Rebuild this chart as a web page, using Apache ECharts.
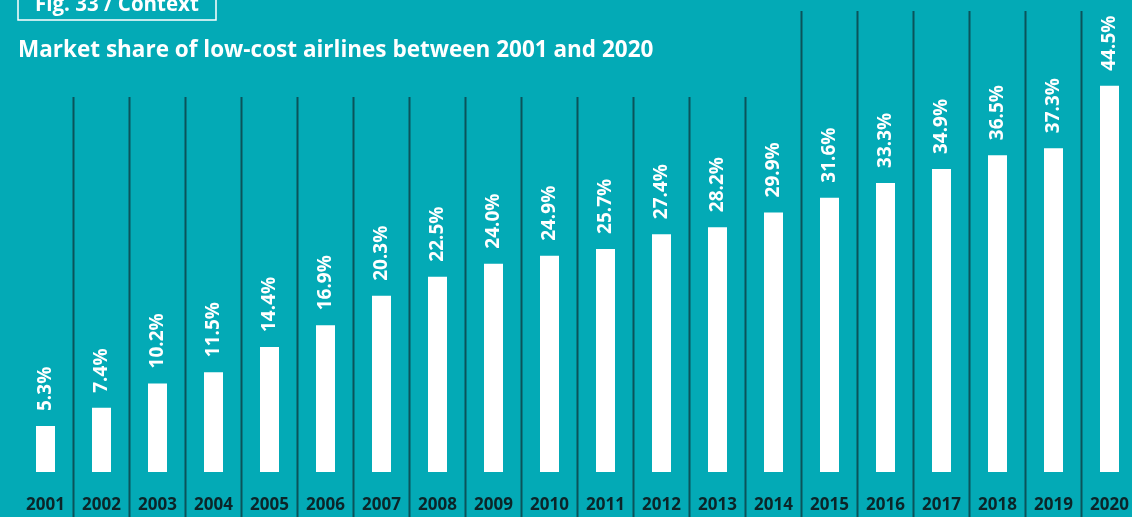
<!DOCTYPE html>
<html>
<head>
<meta charset="utf-8">
<style>
  html, body { margin: 0; padding: 0; background: #03aab6; }
  #chart { width: 1132px; height: 517px; }
</style>
<script src="https://cdn.jsdelivr.net/npm/echarts@6/dist/echarts.min.js"></script>
</head>
<body>
<div id="chart"></div>
<script>
// Low-cost carriers' share of the market, per year (%)
const years = ['2001', '2002', '2003', '2004', '2005', '2006', '2007', '2008', '2009', '2010',
               '2011', '2012', '2013', '2014', '2015', '2016', '2017', '2018', '2019', '2020'];
const shares = [5.3, 7.4, 10.2, 11.5, 14.4, 16.9, 20.3, 22.5, 24.0, 24.9,
                25.7, 27.4, 28.2, 29.9, 31.6, 33.3, 34.9, 36.5, 37.3, 44.5];

const figLabel = 'Fig. 33 / Context';
const titleText = 'Market share of low-cost airlines between 2001 and 2020';

const BG = '#03aab6';
const RULE = '#0b535a';
const FONT = '"Open Sans", "Noto Sans", sans-serif';

const chart = echarts.init(document.getElementById('chart'), null, { renderer: 'canvas' });

// dividers sit on the left edge of every year after the first
const dividerIdx = years.map((y, i) => i).slice(1);
const firstTallYear = years.indexOf('2015');

chart.setOption({
  backgroundColor: BG,
  animation: false,
  grid: { left: 17.5, width: 1120, top: 38, height: 434, outerBoundsMode: 'none', containLabel: false },
  xAxis: {
    type: 'category',
    data: years,
    boundaryGap: true,
    axisLine: { show: false },
    axisTick: { show: false },
    splitLine: { show: false },
    axisLabel: {
      margin: 25,
      color: '#0b2529',
      fontFamily: FONT,
      fontWeight: 'bold',
      fontSize: 17,
      hideOverlap: false
    }
  },
  yAxis: { type: 'value', min: 0, max: 50, show: false },
  graphic: [
    {
      type: 'rect',
      shape: { x: 18, y: -12, width: 198, height: 32 },
      style: { fill: 'none', stroke: '#ffffff', lineWidth: 1.5 }
    },
    {
      type: 'text',
      x: 35, y: 5,
      style: {
        text: figLabel, fill: '#ffffff', font: 'bold 20.5px ' + FONT,
        verticalAlign: 'middle', align: 'left'
      }
    },
    {
      type: 'text',
      x: 18, y: 51,
      style: {
        text: titleText, fill: '#ffffff', font: 'bold 22.5px ' + FONT,
        verticalAlign: 'middle', align: 'left'
      }
    }
  ],
  series: [
    {
      type: 'custom',
      data: dividerIdx.map(i => [i]),
      encode: { x: 0 },
      clip: false,
      silent: true,
      z: 1,
      renderItem(params, api) {
        const idx = api.value(0);
        const c = api.coord([idx, 0]);
        const band = api.size([1, 0])[0];
        const x = Math.round(c[0] - band / 2) - 0.5;
        const top = idx >= firstTallYear ? 11 : 97;
        return {
          type: 'line',
          shape: { x1: x, y1: top, x2: x, y2: 517 },
          style: { stroke: RULE, lineWidth: 2 }
        };
      }
    },
    {
      type: 'bar',
      data: shares,
      barWidth: 19,
      z: 2,
      itemStyle: { color: '#ffffff' },
      label: {
        show: true,
        position: 'top',
        distance: 15,
        rotate: 90,
        align: 'left',
        verticalAlign: 'middle',
        color: '#ffffff',
        fontFamily: FONT,
        fontWeight: 'bold',
        fontSize: 19,
        formatter: p => p.value.toFixed(1) + '%'
      }
    }
  ]
});
</script>
</body>
</html>
